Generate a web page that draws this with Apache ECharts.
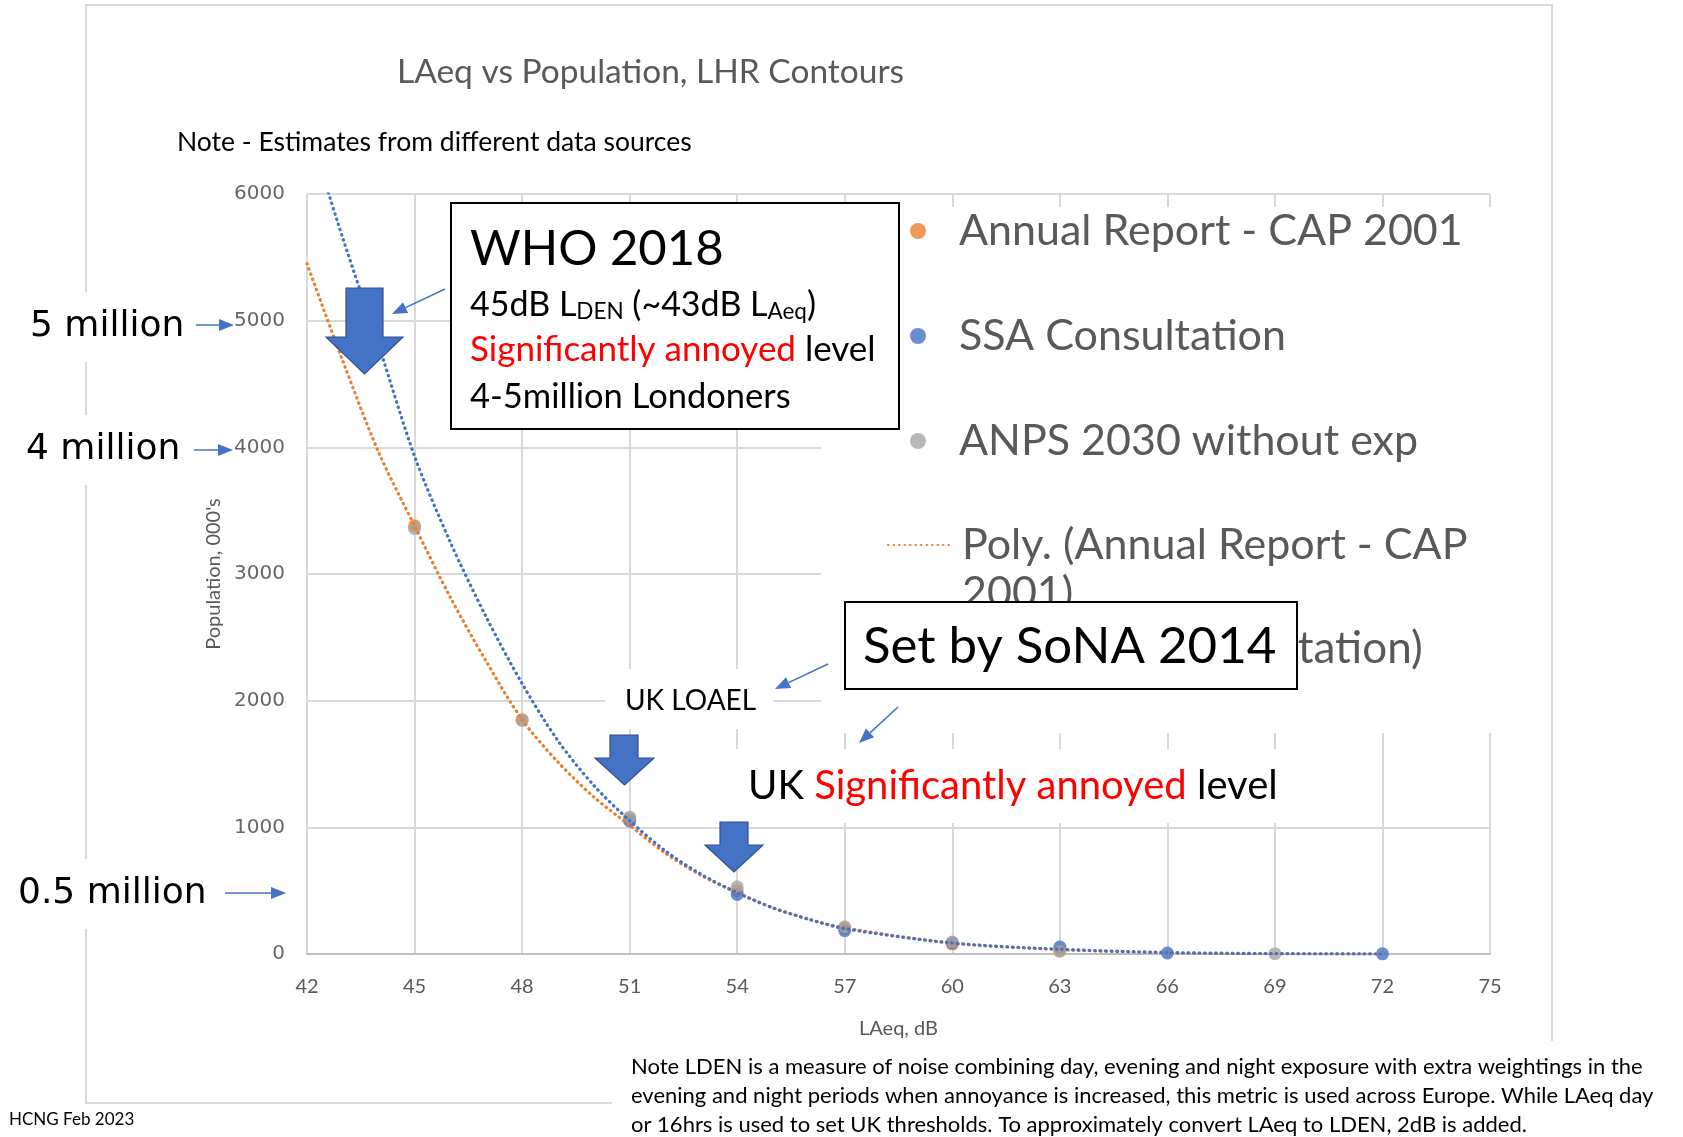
<!DOCTYPE html>
<html><head><meta charset="utf-8">
<script src="https://cdn.jsdelivr.net/npm/echarts@6/dist/echarts.min.js"></script>
<style>html,body{margin:0;padding:0;background:#fff}#c{width:1683px;height:1137px}</style>
</head><body><div id="c"></div>
<script>
// ---- data ----
const annualX = [45, 48, 51, 54, 57, 60, 63];
const annualY = [3380, 1850, 1065, 500, 205, 78, 25];
const ssaX = [51, 54, 57, 60, 63, 66, 72];
const ssaY = [1050, 470, 185, 88, 55, 8, 1];
const anpsX = [45, 48, 51, 54, 57, 60, 63, 69];
const anpsY = [3360, 1845, 1080, 530, 215, 95, 22, 2];
// trendline curves
const polyAnnualX = [42, 43, 44, 45, 46, 47, 48, 49, 50, 51, 52, 53, 54, 55, 56, 57, 60, 63, 66, 69, 72];
const polyAnnualY = [5450, 4680, 3960, 3380, 2815, 2310, 1850, 1515, 1240, 1015, 795, 620, 484, 364, 274, 206, 85, 35, 10, 2, 0];
const polySsaX = [42, 43, 44, 45, 46, 47, 48, 49, 50, 51, 52, 53, 54, 55, 56, 57, 60, 63, 66, 69, 72];
const polySsaY = [6550, 5650, 4805, 3930, 3250, 2660, 2135, 1684, 1331, 1053, 813, 628, 484, 364, 274, 200, 87, 38, 12, 3, 0];
const seriesNames = ['Annual Report - CAP 2001', 'SSA Consultation', 'ANPS 2030 without exp',
  'Poly. (Annual Report - CAP 2001)', 'Poly. (SSA Consultation)'];
const xMin = 42, xMax = 75, xStep = 3;
const yMin = 0, yMax = 6000, yStep = 1000;

const ORANGE = '#ED7D31', BLUE = '#4472C4', GRAY = '#A5A5A5';
const zip = (xs, ys) => xs.map((x, i) => [x, ys[i]]);
const F = 'Lato, "Open Sans", sans-serif';

function arrow(x1, y1, x2, y2) {
  const a = Math.atan2(y2 - y1, x2 - x1), L = 15, W = 6;
  const bx = x2 - L * Math.cos(a), by = y2 - L * Math.sin(a);
  const s = Math.sin(a), c = Math.cos(a);
  return [
    {type: 'line', z: 50, shape: {x1, y1, x2: bx, y2: by}, style: {stroke: BLUE, lineWidth: 1.5}},
    {type: 'polygon', z: 50, shape: {points: [[x2, y2], [bx + W * s, by - W * c], [bx - W * s, by + W * c]]}, style: {fill: BLUE}}
  ];
}
function bigArrow(x0, x1, hx0, hx1, yTop, yHead, yTip) {
  const cx = (hx0 + hx1) / 2;
  return {type: 'polygon', z: 50, shape: {points: [[x0, yTop], [x1, yTop], [x1, yHead], [hx1, yHead], [cx, yTip], [hx0, yHead], [x0, yHead]]},
    style: {fill: BLUE, stroke: '#2F528F', lineWidth: 1.2}};
}
function txt(x, y, text, font, fill, extra) {
  return {type: 'text', z: 60, x, y,
    style: Object.assign({text, font, fill: fill || '#000', textAlign: 'left', textVerticalAlign: 'middle', align: 'left', verticalAlign: 'middle'}, extra || {})};
}
function rect(x, y, w, h, z, fill, stroke, lw) {
  return {type: 'rect', z, shape: {x, y, width: w, height: h}, style: {fill: fill || '#fff', stroke: stroke || null, lineWidth: lw || 0}};
}

const graphics = [
  // outer chart border
  rect(86, 5, 1466, 1098, -1, 'none', '#D9D9D9', 2),
  // white occluders (legend area, text boxes)
  rect(821, 207, 682, 526, 1),
  rect(605, 669, 168, 60, 1),
  rect(728, 749, 557, 74, 1),
  // WHO box
  rect(451, 203, 448, 226, 10, '#fff', '#000', 2),
  txt(470, 249, 'WHO 2018', '49px ' + F),
  txt(470, 305, '45dB L{s|DEN} (~43dB L{s|Aeq})', '34px ' + F, '#000', {rich: {s: {font: '22.5px ' + F, fill: '#000', padding: [13, 0, 0, 0]}}}),
  txt(470, 350, '{r|Significantly annoyed} level', '35px ' + F, '#000', {rich: {r: {font: '35px ' + F, fill: '#FF0000'}}}),
  txt(470, 397, '4-5million Londoners', '34.5px ' + F),
  bigArrow(346, 383, 326, 403, 288, 337, 374),
  ...arrow(445, 289, 392, 314),
  // UK LOAEL
  txt(625, 701, 'UK LOAEL', '28px ' + F),
  bigArrow(610, 638, 595, 654, 735, 758, 785),
  bigArrow(720, 748, 705, 763, 822, 845, 872),
  // SoNA box
  rect(845, 602, 452, 87, 100, '#fff', '#000', 2),
  Object.assign(txt(863, 647, 'Set by SoNA 2014', '51px ' + F), {z: 101}),
  ...arrow(828, 664, 775, 689),
  ...arrow(898, 707, 859, 743),
  txt(748, 786, 'UK {r|Significantly annoyed} level', '40px ' + F, '#000', {rich: {r: {font: '40px ' + F, fill: '#FF0000'}}}),
  // left labels
  txt(30, 327, '5 million', '36px "DejaVu Sans"', '#000', {backgroundColor: '#fff', padding: [17, 0]}),
  txt(26, 450, '4 million', '36px "DejaVu Sans"', '#000', {backgroundColor: '#fff', padding: [17, 0]}),
  txt(18, 894, '0.5 million', '36px "DejaVu Sans"', '#000', {backgroundColor: '#fff', padding: [17, 0]}),
  ...arrow(196, 325, 234, 325),
  ...arrow(194, 450, 233, 450),
  ...arrow(225, 893, 286, 893),
  // subtitle note
  txt(177, 142, 'Note - Estimates from different data sources', '26.5px ' + F),
  // bottom note
  rect(612, 1041, 1071, 96, 5),
  txt(631, 1067, 'Note LDEN is a measure of noise combining day, evening and night exposure with extra weightings in the', '22px ' + F),
  txt(631, 1096, 'evening and night periods when annoyance is increased, this metric is used across Europe. While LAeq day', '22px ' + F),
  txt(631, 1125, 'or 16hrs is used to set UK thresholds. To approximately convert LAeq to LDEN, 2dB is added.', '22px ' + F),
  txt(9, 1120, 'HCNG Feb 2023', '17px ' + F)
];

const legText = {fontFamily: F, fontSize: 43, color: '#595959', lineHeight: 48, width: 540, overflow: 'break'};
const legendBase = {orient: 'vertical', itemGap: 57, selectedMode: false};

const chart = echarts.init(document.getElementById('c'), null, {renderer: 'canvas'});
chart.setOption({
  animation: false,
  backgroundColor: '#fff',
  title: {text: 'LAeq vs Population, LHR Contours', left: 392, top: 50,
    textStyle: {fontFamily: F, fontSize: 33.5, fontWeight: 'normal', color: '#595959'}},
  grid: {left: 307, right: 193, top: 194, bottom: 183, containLabel: false},
  legend: [
    Object.assign({}, legendBase, {left: 905, top: 202, itemWidth: 16, itemHeight: 16,
      textStyle: Object.assign({}, legText, {padding: [0, 0, 0, 28]}),
      data: seriesNames.slice(0, 3)}),
    Object.assign({}, legendBase, {left: 882, top: 468, itemWidth: 66, itemHeight: 14,
      textStyle: Object.assign({}, legText, {padding: [0, 0, 0, 3]}),
      formatter: n => '\n' + n,
      data: [{name: seriesNames[3], itemStyle: {opacity: 0}}]}),
    Object.assign({}, legendBase, {left: 882, top: 620, itemWidth: 66, itemHeight: 14,
      textStyle: Object.assign({}, legText, {fontSize: 44, padding: [0, 0, 0, 3]}),
      data: [{name: seriesNames[4], itemStyle: {opacity: 0}}]})
  ],
  xAxis: {
    type: 'value', min: xMin, max: xMax, interval: xStep,
    name: 'LAeq, dB', nameLocation: 'middle', nameGap: 65,
    nameTextStyle: {fontFamily: F, fontSize: 20, color: '#595959'},
    axisLine: {show: true, lineStyle: {color: '#BFBFBF', width: 2}},
    axisTick: {show: false},
    axisLabel: {fontFamily: F, fontSize: 20, color: '#595959', margin: 23, formatter: v => String(v)},
    splitLine: {show: true, lineStyle: {color: '#D9D9D9', width: 2}}
  },
  yAxis: {
    type: 'value', min: yMin, max: yMax, interval: yStep,
    name: 'Population, 000\'s', nameLocation: 'middle', nameGap: 82, nameRotate: 90,
    nameTextStyle: {fontFamily: F, fontSize: 20, color: '#595959'},
    axisLine: {show: false}, axisTick: {show: false},
    axisLabel: {fontFamily: '"DejaVu Sans"', fontSize: 20, color: '#666666', margin: 22, formatter: v => String(v)},
    splitLine: {show: true, lineStyle: {color: '#D9D9D9', width: 2}}
  },
  series: [
    {name: seriesNames[0], type: 'scatter', symbolSize: 13, itemStyle: {color: ORANGE}, data: zip(annualX, annualY)},
    {name: seriesNames[1], type: 'scatter', symbolSize: 13, itemStyle: {color: BLUE}, data: zip(ssaX, ssaY)},
    {name: seriesNames[2], type: 'scatter', symbolSize: 13, itemStyle: {color: GRAY}, data: zip(anpsX, anpsY)},
    {name: seriesNames[3], type: 'line', smooth: 0.3, symbol: 'none', showSymbol: false, clip: true,
      itemStyle: {color: ORANGE},
      lineStyle: {color: ORANGE, width: 3.2, type: [0.5, 5], cap: 'round'}, data: zip(polyAnnualX, polyAnnualY)},
    {name: seriesNames[4], type: 'line', smooth: 0.3, symbol: 'none', showSymbol: false, clip: true,
      itemStyle: {color: BLUE},
      lineStyle: {color: BLUE, width: 3.2, type: [0.5, 5], cap: 'round'}, data: zip(polySsaX, polySsaY)}
  ],
  graphic: graphics
});
</script></body></html>
